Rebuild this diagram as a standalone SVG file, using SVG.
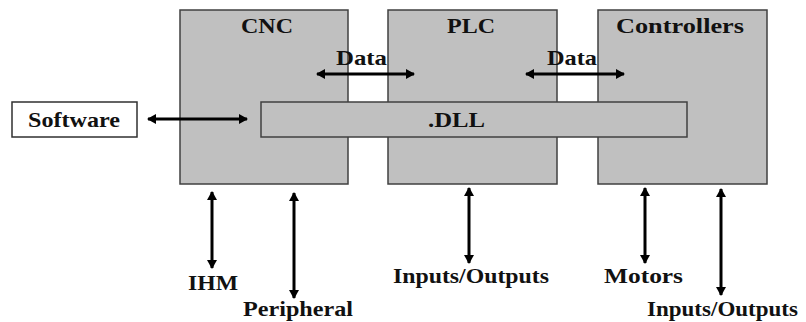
<svg xmlns="http://www.w3.org/2000/svg" width="806" height="322" viewBox="0 0 806 322">
<defs>
<style>
.box{fill:#c0c0c0;stroke:#404040;stroke-width:1.5}
.wbox{fill:#ffffff;stroke:#303030;stroke-width:1.5}
.t{font-family:"Liberation Serif","Times New Roman",serif;font-weight:bold;font-size:21px;fill:#111}
.c{stroke:#000;stroke-width:3;fill:none;marker-start:url(#ah);marker-end:url(#ah)}
</style>
<marker id="ah" markerUnits="userSpaceOnUse" markerWidth="9" markerHeight="10" viewBox="0 0 9 10" refX="8" refY="5" orient="auto-start-reverse">
<path d="M0,0 L9,5 L0,10 z" fill="#000"/>
</marker>
</defs>
<rect width="806" height="322" fill="#ffffff"/>
<g id="cnc">
<rect class="box" x="180" y="10" width="168" height="174"/>
<text class="t" x="241" y="33" textLength="52" lengthAdjust="spacingAndGlyphs">CNC</text>
</g>
<g id="plc">
<rect class="box" x="388" y="10" width="169" height="174"/>
<text class="t" x="447" y="33" textLength="48" lengthAdjust="spacingAndGlyphs">PLC</text>
</g>
<g id="controllers">
<rect class="box" x="598" y="10" width="169" height="174"/>
<text class="t" x="616" y="33" textLength="128" lengthAdjust="spacingAndGlyphs">Controllers</text>
</g>
<g id="dll">
<rect class="box" x="261" y="102" width="426" height="35"/>
<text class="t" x="428" y="127" textLength="57" lengthAdjust="spacingAndGlyphs">.DLL</text>
</g>
<g id="software">
<rect class="wbox" x="12" y="102" width="125" height="35"/>
<text class="t" x="28" y="127" textLength="92" lengthAdjust="spacingAndGlyphs">Software</text>
</g>
<g id="ihm"><text class="t" x="188" y="290" textLength="50" lengthAdjust="spacingAndGlyphs">IHM</text></g>
<g id="peripheral"><text class="t" x="243" y="316" textLength="110" lengthAdjust="spacingAndGlyphs">Peripheral</text></g>
<g id="plc-io"><text class="t" x="393" y="283" textLength="156" lengthAdjust="spacingAndGlyphs">Inputs/Outputs</text></g>
<g id="motors"><text class="t" x="604" y="283" textLength="79" lengthAdjust="spacingAndGlyphs">Motors</text></g>
<g id="ctrl-io"><text class="t" x="647" y="316" textLength="151" lengthAdjust="spacingAndGlyphs">Inputs/Outputs</text></g>
<g id="connectors">
<line class="c" x1="148" y1="119" x2="247" y2="119"/>
<line class="c" x1="317" y1="74" x2="414" y2="74"/>
<text class="t" x="336" y="65" textLength="51" lengthAdjust="spacingAndGlyphs">Data</text>
<line class="c" x1="526" y1="74" x2="624" y2="74"/>
<text class="t" x="547" y="65" textLength="50" lengthAdjust="spacingAndGlyphs">Data</text>
<line class="c" x1="212" y1="192" x2="212" y2="268"/>
<line class="c" x1="294" y1="193" x2="294" y2="298"/>
<line class="c" x1="469" y1="188" x2="469" y2="263"/>
<line class="c" x1="645" y1="188" x2="645" y2="263"/>
<line class="c" x1="721" y1="189" x2="721" y2="295"/>
</g>
</svg>
